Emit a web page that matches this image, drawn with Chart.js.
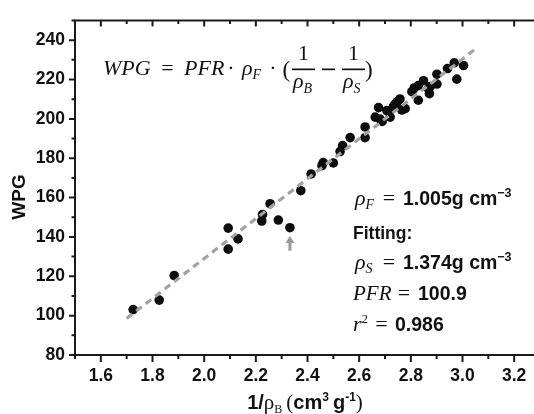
<!DOCTYPE html>
<html><head><meta charset="utf-8">
<script src="https://cdn.jsdelivr.net/npm/chart.js@4/dist/chart.umd.min.js"></script>
<style>
html,body{margin:0;padding:0;background:#fff;overflow:hidden;width:534px;height:414px}
#wrap{width:545px;height:414px;position:relative}
</style></head>
<body><div id="wrap"><canvas id="c" width="545" height="414"></canvas></div>
<script>
// ---- data ----
const invRhoB = [1.725,1.826,1.884,2.093,2.093,2.131,2.223,2.226,2.255,2.287,2.332,2.374,2.414,2.461,2.456,2.500,2.526,2.536,2.565,2.623,2.623,2.675,2.662,2.681,2.689,2.707,2.717,2.720,2.733,2.739,2.748,2.758,2.765,2.778,2.804,2.813,2.829,2.849,2.829,2.868,2.875,2.872,2.901,2.901,2.942,2.968,2.978,3.004];
const wpg     = [103.1,107.9,120.4,144.5,133.8,139.0,148.1,151.4,156.9,148.6,144.7,163.5,172.0,177.8,176.2,177.6,183.4,186.4,190.5,195.9,190.5,205.7,200.9,199.9,198.7,204.2,203.7,200.9,206.5,207.5,208.7,210.1,204.5,205.2,213.8,215.7,216.9,219.4,209.5,215.3,216.4,212.8,222.7,217.7,225.6,228.5,220.2,227.1];
const fitX = [1.70, 3.05];
const fitY = [98.6, 235.5];
const arrowX = 2.332;
const arrowY = [133.0, 140.5]; // tail, tip
const xTicks = [1.6,1.8,2.0,2.2,2.4,2.6,2.8,3.0,3.2];
const xMinor = [1.5,1.7,1.9,2.1,2.3,2.5,2.7,2.9,3.1,3.3];
const yTicks = [80,100,120,140,160,180,200,220,240];
const yMinor = [90,110,130,150,170,190,210,230,250];

const SANSB = (s)=>`bold ${s}px "Liberation Sans", Arial, sans-serif`;
const SERI = (s)=>`italic ${s}px "Liberation Serif", "Times New Roman", serif`;
const SER = (s)=>`${s}px "Liberation Serif", "Times New Roman", serif`;

function runs(ctx, x, y, list, color){
  ctx.fillStyle = color || '#111';
  ctx.textBaseline = 'alphabetic';
  ctx.textAlign = 'left';
  for (const r of list){
    ctx.font = r.f;
    ctx.fillText(r.t, x, y + (r.dy||0));
    x += ctx.measureText(r.t).width + (r.dx||0);
  }
  return x;
}
function runsWidth(ctx, list){
  let w=0; for (const r of list){ ctx.font=r.f; w += ctx.measureText(r.t).width + (r.dx||0);} return w;
}
function centered(ctx, t, f, cx, y){
  ctx.font = f; ctx.textAlign='center'; ctx.textBaseline='alphabetic'; ctx.fillStyle='#111';
  ctx.fillText(t, cx, y); ctx.textAlign='left';
}

const framePlugin = {
  id:'frame',
  afterDatasetsDraw(chart){
    const {ctx, chartArea:a, scales:{x, y}} = chart;
    ctx.save();
    // arrow
    const ax = x.getPixelForValue(arrowX), ay0 = y.getPixelForValue(arrowY[0]), ay1 = y.getPixelForValue(arrowY[1]);
    ctx.strokeStyle = '#9a9a9a'; ctx.fillStyle = '#9a9a9a'; ctx.lineWidth = 3;
    ctx.beginPath(); ctx.moveTo(ax, ay0); ctx.lineTo(ax, ay1+5); ctx.stroke();
    ctx.beginPath(); ctx.moveTo(ax, ay1); ctx.lineTo(ax-4.5, ay1+7); ctx.lineTo(ax+4.5, ay1+7); ctx.closePath(); ctx.fill();

    // frame
    ctx.strokeStyle = '#1a1a1a'; ctx.lineWidth = 2;
    ctx.strokeRect(a.left, a.top, a.right-a.left, a.bottom-a.top);
    ctx.beginPath();
    for (const v of xTicks){ const p = x.getPixelForValue(v);
      ctx.moveTo(p, a.bottom); ctx.lineTo(p, a.bottom+7);
      ctx.moveTo(p, a.top); ctx.lineTo(p, a.top+6); }
    for (const v of xMinor){ const p = x.getPixelForValue(v);
      ctx.moveTo(p, a.bottom); ctx.lineTo(p, a.bottom+4);
      ctx.moveTo(p, a.top); ctx.lineTo(p, a.top+3.5); }
    for (const v of yTicks){ const p = y.getPixelForValue(v);
      ctx.moveTo(a.left, p); ctx.lineTo(a.left-6, p);
      ctx.moveTo(a.right, p); ctx.lineTo(a.right-6, p); }
    for (const v of yMinor){ const p = y.getPixelForValue(v);
      ctx.moveTo(a.left, p); ctx.lineTo(a.left-3.5, p);
      ctx.moveTo(a.right, p); ctx.lineTo(a.right-3.5, p); }
    ctx.stroke();

    // axis titles
    ctx.save();
    ctx.translate(20, 197); ctx.rotate(-Math.PI/2);
    ctx.font = SANSB(19); ctx.fillStyle='#111'; ctx.textAlign='center'; ctx.textBaseline='middle';
    ctx.fillText('WPG', 0, 0);
    ctx.restore();

    const xt = [
      {t:'1/', f:SANSB(20)}, {t:'ρ', f:SER(21)}, {t:'B', f:SER(12), dy:4, dx:4},
      {t:'(', f:SER(21)}, {t:'cm', f:SANSB(20)}, {t:'3', f:SANSB(12), dy:-8, dx:4},
      {t:'g', f:SANSB(20)}, {t:'-1', f:SANSB(12), dy:-8}, {t:')', f:SER(21)}
    ];
    const w = runsWidth(ctx, xt);
    runs(ctx, 305 - w/2, 409, xt);

    // equation (pieces placed to follow the reference layout)
    runs(ctx, 103, 75, [{t:'WPG', f:SERI(22)}]);
    centered(ctx, '=', SER(22), 167.5, 75);
    runs(ctx, 184, 75, [{t:'PFR', f:SERI(22)}]);
    centered(ctx, '·', SER(22), 231, 75);
    runs(ctx, 242, 75, [{t:'ρ', f:SERI(22)}, {t:'F', f:SERI(14), dy:4}]);
    centered(ctx, '·', SER(22), 273, 75);
    runs(ctx, 282.5, 77, [{t:'(', f:SER(23)}]);
    ctx.fillStyle='#111';
    ctx.fillRect(292, 68.5, 23, 1.7);
    centered(ctx, '1', SER(22), 303.5, 59.5);
    runs(ctx, 293, 88, [{t:'ρ', f:SERI(22)}, {t:'B', f:SERI(14), dy:5}]);
    ctx.fillRect(322, 68.5, 13, 1.7);
    ctx.fillRect(342, 68.5, 23, 1.7);
    centered(ctx, '1', SER(22), 353.5, 59.5);
    runs(ctx, 343, 88, [{t:'ρ', f:SERI(22)}, {t:'S', f:SERI(14), dy:5}]);
    runs(ctx, 365, 77, [{t:')', f:SER(23)}]);

    // right annotation block
    runs(ctx, 355, 205, [{t:'ρ', f:SERI(22)}, {t:'F', f:SERI(14), dy:4}]);
    centered(ctx, '=', SER(22), 389, 205);
    runs(ctx, 403, 205, [{t:'1.005g cm', f:SANSB(19.5)}, {t:'−3', f:SANSB(12.5), dy:-8}]);
    runs(ctx, 353, 238.5, [{t:'Fitting:', f:SANSB(17.5)}]);
    runs(ctx, 355, 268.5, [{t:'ρ', f:SERI(22)}, {t:'S', f:SERI(14), dy:4}]);
    centered(ctx, '=', SER(22), 389, 268.5);
    runs(ctx, 403, 268.5, [{t:'1.374g cm', f:SANSB(19.5)}, {t:'−3', f:SANSB(12.5), dy:-8}]);
    runs(ctx, 353, 300, [{t:'PFR', f:SERI(21)}]);
    centered(ctx, '=', SER(22), 404, 300);
    runs(ctx, 418, 300, [{t:'100.9', f:SANSB(19.5)}]);
    runs(ctx, 353, 331, [{t:'r', f:SERI(22)}, {t:'2', f:SER(13), dy:-8}]);
    centered(ctx, '=', SER(22), 381.5, 331);
    runs(ctx, 395, 331, [{t:'0.986', f:SANSB(19.5)}]);
    ctx.restore();
  }
};

new Chart(document.getElementById('c'), {
  type: 'scatter',
  data: {
    datasets: [
      { data: fitX.map((v,i)=>({x:v, y:fitY[i]})), showLine:true, borderColor:'#a3a3a3', borderWidth:3.2,
        borderDash:[7,5], pointRadius:0, order:0, fill:false },
      { data: invRhoB.map((v,i)=>({x:v, y:wpg[i]})), backgroundColor:'#0d0d0d', borderWidth:0,
        pointRadius:4.8, order:1 }
    ]
  },
  options: {
    responsive:false, devicePixelRatio:1, animation:false,
    layout:{ padding:{ top:10.7, right:5, left:0, bottom:0 } },
    plugins:{ legend:{display:false}, tooltip:{enabled:false} },
    scales:{
      x:{ type:'linear', min:1.5, max:3.3,
        afterBuildTicks: s => { s.ticks = xTicks.map(v=>({value:v})); },
        afterFit: s => { s.height = 59; },
        grid:{display:false, drawTicks:false}, border:{display:false},
        ticks:{ padding:11, color:'#111', font:{family:'"Liberation Sans", Arial, sans-serif', weight:'bold', size:17.5},
          callback: v => Number(v).toFixed(1), maxRotation:0, autoSkip:false } },
      y:{ type:'linear', min:80, max:250,
        afterBuildTicks: s => { s.ticks = yTicks.map(v=>({value:v})); },
        afterFit: s => { s.width = 75; },
        grid:{display:false, drawTicks:false}, border:{display:false},
        ticks:{ padding:10, color:'#111', font:{family:'"Liberation Sans", Arial, sans-serif', weight:'bold', size:17.5},
          callback: v => String(v), autoSkip:false } }
    }
  },
  plugins:[framePlugin]
});
</script></body></html>
